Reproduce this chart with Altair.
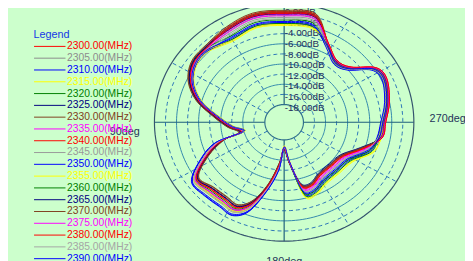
import altair as alt
import pandas as pd

# ---------------- data ----------------
freqs = [2300, 2305, 2310, 2315, 2320, 2325, 2330, 2335, 2340, 2345,
         2350, 2355, 2360, 2365, 2370, 2375, 2380, 2385, 2390]
line_colors = ["#FF0000", "#8C8C8C", "#0000FF", "#FFFF00", "#008000", "#000080", "#804020", "#FF00FF",
               "#FF0000", "#999999", "#0000FF", "#FFFF00", "#008000", "#000080", "#804020", "#FF00FF",
               "#FF0000", "#A5A5A5", "#0000FF"]

# azimuth (deg, counter-clockwise from top) at which each level was read
angles = [0, 15, 30, 45, 55, 65, 75, 85, 95, 104, 108, 116, 125, 135, 145, 153, 160, 167,
          174, 180, 187, 194, 202, 212, 225, 238, 250, 260, 270, 282, 295, 303, 312, 322, 333, 345]

p2300 = [-1.6, -1.4, -2.2, -3.0, -3.2, -4.6, -7.3, -10.9, -13.4, -15.3, -11.6, -7.8, -4.2, -4.8, -4.9, -4.6, -6.5, -10.7, -15.1, -18.4, -15.5, -10.7, -10.3, -11.4, -11.6, -11.1, -8.5, -5.7, -5.3, -4.2, -3.2, -3.9, -7.4, -8.2, -6.1, -1.5]
p2305 = [-2.4, -2.2, -3.0, -3.5, -3.7, -5.1, -7.8, -11.4, -13.9, -15.8, -11.1, -7.3, -3.7, -4.0, -4.1, -3.8, -5.7, -10.2, -14.6, -18.1, -15.2, -10.4, -10.0, -11.1, -11.3, -10.8, -8.2, -6.1, -5.7, -4.6, -3.6, -4.3, -7.8, -8.6, -6.5, -2.3]
p2310 = [-4.1, -3.9, -4.7, -3.8, -4.0, -5.4, -8.1, -11.7, -14.2, -16.1, -10.6, -6.8, -3.2, -3.3, -3.4, -3.1, -5.0, -9.7, -14.1, -18.4, -15.5, -9.0, -8.6, -9.7, -9.9, -9.4, -6.8, -6.3, -5.9, -4.8, -3.8, -4.5, -8.0, -8.8, -6.7, -4.0]
p2315 = [-4.4, -4.2, -5.0, -3.9, -4.1, -5.5, -8.2, -11.8, -14.3, -16.2, -10.9, -7.1, -3.5, -3.7, -3.8, -3.5, -5.4, -10.0, -14.4, -18.7, -15.8, -8.6, -8.2, -9.3, -9.5, -9.0, -6.4, -5.6, -5.2, -4.1, -3.1, -3.8, -7.3, -8.1, -6.0, -4.3]
p2320 = [-4.0, -3.8, -4.6, -3.6, -3.8, -5.2, -7.9, -11.5, -14.0, -15.9, -11.2, -7.4, -3.8, -4.2, -4.3, -4.0, -5.9, -10.3, -14.7, -18.2, -15.3, -8.8, -8.4, -9.5, -9.7, -9.2, -6.6, -6.2, -5.8, -4.7, -3.7, -4.4, -7.9, -8.7, -6.6, -3.9]
p2325 = [-1.9, -1.7, -2.5, -2.9, -3.1, -4.5, -7.2, -10.8, -13.3, -15.2, -11.8, -8.0, -4.4, -5.1, -5.2, -4.9, -6.8, -10.9, -15.3, -18.0, -15.1, -10.8, -10.4, -11.5, -11.7, -11.2, -8.6, -5.8, -5.4, -4.3, -3.3, -4.0, -7.5, -8.3, -6.2, -1.8]
p2330 = [-1.4, -1.2, -2.0, -2.8, -3.0, -4.4, -7.1, -10.7, -13.2, -15.1, -11.9, -8.1, -4.5, -5.3, -5.4, -5.1, -7.0, -11.0, -15.4, -18.4, -15.5, -10.6, -10.2, -11.3, -11.5, -11.0, -8.4, -5.6, -5.2, -4.1, -3.1, -3.8, -7.3, -8.1, -6.0, -1.3]
p2335 = [-2.2, -2.0, -2.8, -3.2, -3.4, -4.8, -7.5, -11.1, -13.6, -15.5, -11.3, -7.5, -3.9, -4.3, -4.4, -4.1, -6.0, -10.4, -14.8, -18.6, -15.7, -10.0, -9.6, -10.7, -10.9, -10.4, -7.8, -5.9, -5.5, -4.4, -3.4, -4.1, -7.6, -8.4, -6.3, -2.1]
p2340 = [-1.8, -1.6, -2.4, -3.1, -3.3, -4.7, -7.4, -11.0, -13.5, -15.4, -11.7, -7.9, -4.3, -5.0, -5.1, -4.8, -6.7, -10.8, -15.2, -18.3, -15.4, -10.5, -10.1, -11.2, -11.4, -10.9, -8.3, -5.5, -5.1, -4.0, -3.0, -3.7, -7.2, -8.0, -5.9, -1.7]
p2345 = [-2.8, -2.6, -3.4, -3.4, -3.6, -5.0, -7.7, -11.3, -13.8, -15.7, -11.0, -7.2, -3.6, -3.9, -4.0, -3.7, -5.6, -10.1, -14.5, -18.4, -15.5, -9.7, -9.3, -10.4, -10.6, -10.1, -7.5, -6.0, -5.6, -4.5, -3.5, -4.2, -7.7, -8.5, -6.4, -2.7]
p2350 = [-3.6, -3.4, -4.2, -3.7, -3.9, -5.3, -8.0, -11.6, -14.1, -16.0, -10.5, -6.7, -3.1, -3.1, -3.2, -2.9, -4.8, -9.6, -14.0, -18.1, -15.2, -9.3, -8.9, -10.0, -10.2, -9.7, -7.1, -6.4, -6.0, -4.9, -3.9, -4.6, -8.1, -8.9, -6.8, -3.5]
p2355 = [-4.2, -4.0, -4.8, -3.5, -3.7, -5.1, -7.8, -11.4, -13.9, -15.8, -11.1, -7.3, -3.7, -4.0, -4.1, -3.8, -5.7, -10.2, -14.6, -18.8, -15.9, -8.4, -8.0, -9.1, -9.3, -8.8, -6.2, -5.7, -5.3, -4.2, -3.2, -3.9, -7.4, -8.2, -6.1, -4.1]
p2360 = [-3.3, -3.1, -3.9, -3.1, -3.3, -4.7, -7.4, -11.0, -13.5, -15.4, -11.4, -7.6, -4.0, -4.5, -4.6, -4.3, -6.2, -10.5, -14.9, -18.3, -15.4, -9.2, -8.8, -9.9, -10.1, -9.6, -7.0, -6.1, -5.7, -4.6, -3.6, -4.3, -7.8, -8.6, -6.5, -3.2]
p2365 = [-2.1, -1.9, -2.7, -3.0, -3.2, -4.6, -7.3, -10.9, -13.4, -15.3, -11.7, -7.9, -4.3, -5.0, -5.1, -4.8, -6.7, -10.8, -15.2, -18.4, -15.5, -11.0, -10.6, -11.7, -11.9, -11.4, -8.8, -5.7, -5.3, -4.2, -3.2, -3.9, -7.4, -8.2, -6.1, -2.0]
p2370 = [-1.7, -1.5, -2.3, -2.7, -2.9, -4.3, -7.0, -10.6, -13.1, -15.0, -12.0, -8.2, -4.6, -5.4, -5.5, -5.2, -7.1, -11.1, -15.5, -18.2, -15.3, -10.8, -10.4, -11.5, -11.7, -11.2, -8.6, -5.8, -5.4, -4.3, -3.3, -4.0, -7.5, -8.3, -6.2, -1.6]
p2375 = [-2.5, -2.3, -3.1, -3.3, -3.5, -4.9, -7.6, -11.2, -13.7, -15.6, -11.2, -7.4, -3.8, -4.2, -4.3, -4.0, -5.9, -10.3, -14.7, -18.5, -15.6, -10.2, -9.8, -10.9, -11.1, -10.6, -8.0, -5.6, -5.2, -4.1, -3.1, -3.8, -7.3, -8.1, -6.0, -2.4]
p2380 = [-2.0, -1.8, -2.6, -3.2, -3.4, -4.8, -7.5, -11.1, -13.6, -15.5, -11.5, -7.7, -4.1, -4.7, -4.8, -4.5, -6.4, -10.6, -15.0, -18.1, -15.2, -10.4, -10.0, -11.1, -11.3, -10.8, -8.2, -5.5, -5.1, -4.0, -3.0, -3.7, -7.2, -8.0, -5.9, -1.9]
p2385 = [-3.1, -2.9, -3.7, -3.6, -3.8, -5.2, -7.9, -11.5, -14.0, -15.9, -10.9, -7.1, -3.5, -3.7, -3.8, -3.5, -5.4, -10.0, -14.4, -18.4, -15.5, -9.8, -9.4, -10.5, -10.7, -10.2, -7.6, -6.2, -5.8, -4.7, -3.7, -4.4, -7.9, -8.7, -6.6, -3.0]
p2390 = [-3.8, -3.6, -4.4, -3.5, -3.7, -5.1, -7.8, -11.4, -13.9, -15.8, -10.4, -6.6, -3.0, -3.0, -3.1, -2.8, -4.7, -9.5, -13.9, -18.6, -15.7, -9.5, -9.1, -10.2, -10.4, -9.9, -7.3, -6.0, -5.6, -4.5, -3.5, -4.2, -7.7, -8.5, -6.4, -3.7]

patterns = [p2300, p2305, p2310, p2315, p2320, p2325, p2330, p2335, p2340, p2345,
            p2350, p2355, p2360, p2365, p2370, p2375, p2380, p2385, p2390]

grid_levels = [-20, -18, -16, -14, -12, -10, -8, -6, -4, -2, 0]
label_levels = [0, -2, -4, -6, -8, -10, -12, -14, -16, -18]
axis_angles = [0, 90, 180, 270]
spoke_angles = [30, 60, 120, 150, 210, 240, 300, 330]

# ---------------- tables ----------------
labels = [f"{f:.2f}(MHz)" for f in freqs]
rows = []
for lab, pat in zip(labels, patterns):
    for k, (a, d) in enumerate(zip(angles, pat)):
        rows.append({"label": lab, "ang": a, "db": d, "ord": k})
series_df = pd.DataFrame(rows)

grid_df = pd.DataFrame({"level": grid_levels,
                        "kind": ["solid" if (lv % 4 == 0) else "dash" for lv in grid_levels]})
ticklab_df = pd.DataFrame({"level": label_levels,
                           "txt": [("%.2fdB" % lv).replace("-0.00", "0.00") for lv in label_levels]})
axis_df = pd.DataFrame({"ang": axis_angles})
spoke_df = pd.DataFrame({"ang": spoke_angles})

# ---------------- geometry (radius in vertical px units) ----------------
R = "(18 + (datum.{f} + 20) * 5.15)"
xs = alt.Scale(domain=[-257.6, 168.7], nice=False, zero=False)
ys = alt.Scale(domain=[-139, 114], nice=False, zero=False)
X = alt.X("x:Q", scale=xs, axis=None)
Y = alt.Y("y:Q", scale=ys, axis=None)

circ_base = (alt.Chart(grid_df)
             .transform_calculate(deg="sequence(0, 362, 2)")
             .transform_flatten(["deg"])
             .transform_calculate(r=R.format(f="level"))
             .transform_calculate(x="-datum.r*sin(datum.deg*PI/180)",
                                  y="datum.r*cos(datum.deg*PI/180)"))

solid_c = circ_base.transform_filter("datum.kind == 'solid' && datum.level > -20 && datum.level < 0").mark_line(
    stroke="#3288AC", strokeWidth=1).encode(x=X, y=Y, detail="level:N", order="deg:Q")
dash_c = circ_base.transform_filter("datum.kind == 'dash'").mark_line(
    stroke="#2A74B8", strokeWidth=1, strokeDash=[4, 3]).encode(x=X, y=Y, detail="level:N", order="deg:Q")
inner_c = circ_base.transform_filter("datum.level == -20").mark_line(
    stroke="#2F6F8C", strokeWidth=1.2).encode(x=X, y=Y, detail="level:N", order="deg:Q")
outer_c = circ_base.transform_filter("datum.level == 0").mark_line(
    stroke="#34546E", strokeWidth=1.2).encode(x=X, y=Y, detail="level:N", order="deg:Q")

seg = ("-{r}*sin(datum.ang*PI/180)", "{r}*cos(datum.ang*PI/180)")
r_in = "(18)"
r_out = "(18 + 20*5.15)"
axes = (alt.Chart(axis_df)
        .transform_calculate(x=seg[0].format(r=r_in), y=seg[1].format(r=r_in),
                             x2=seg[0].format(r=r_out), y2=seg[1].format(r=r_out))
        .mark_rule(stroke="#1F5F7C", strokeWidth=1.2)
        .encode(x=X, y=Y, x2="x2:Q", y2="y2:Q"))
spokes = (alt.Chart(spoke_df)
          .transform_calculate(x=seg[0].format(r=r_in), y=seg[1].format(r=r_in),
                               x2=seg[0].format(r=r_out), y2=seg[1].format(r=r_out))
          .mark_rule(stroke="#2A74B8", strokeWidth=1, strokeDash=[4, 3])
          .encode(x=X, y=Y, x2="x2:Q", y2="y2:Q"))

db_text = (alt.Chart(ticklab_df)
           .transform_calculate(x="0.5", y="112 + 5.4*datum.level")
           .mark_text(align="left", baseline="middle", font="Liberation Sans", fontSize=10,
                      color="#1C2C5C")
           .encode(x=X, y=Y, text="txt:N"))


def dir_label(txt, ang, rr, align, baseline, dy=0):
    df = pd.DataFrame({"txt": [txt], "ang": [ang], "rr": [rr]})
    return (alt.Chart(df)
            .transform_calculate(x="-datum.rr*sin(datum.ang*PI/180)",
                                 y="datum.rr*cos(datum.ang*PI/180)")
            .mark_text(font="Liberation Sans", fontSize=11, color="#24345A",
                       align=align, baseline=baseline, dy=dy)
            .encode(x=X, y=Y, text="txt:N"))


lab90 = dir_label("90deg", 90, 134.7, "right", "top", 4)
lab180 = dir_label("180deg", 180, 136, "center", "top")
lab270 = dir_label("270deg", 270, 135.7, "left", "alphabetic")

curves = (alt.Chart(series_df)
          .transform_calculate(r=R.format(f="db"))
          .transform_calculate(x="-datum.r*sin(datum.ang*PI/180)",
                               y="datum.r*cos(datum.ang*PI/180)")
          .mark_line(interpolate="cardinal-closed", strokeWidth=1)
          .encode(x=X, y=Y, order="ord:Q",
                  color=alt.Color("label:N",
                                  scale=alt.Scale(domain=labels, range=line_colors),
                                  legend=alt.Legend(title="Legend", orient="none", legendX=26, legendY=19,
                                                    direction="vertical", symbolType="stroke",
                                                    symbolSize=1024, symbolStrokeWidth=1,
                                                    clipHeight=11.7, rowPadding=0, labelOffset=1,
                                                    labelFont="Liberation Sans", labelFontSize=10.5,
                                                    labelColor={"expr": "scale('color', datum.value)"},
                                                    labelLimit=0, titleColor="#1438E6",
                                                    titleFont="Liberation Sans", titleFontSize=11,
                                                    titleFontWeight="normal", titlePadding=1,
                                                    padding=0))))

chart = (alt.layer(solid_c, dash_c, spokes, axes, inner_c, outer_c, db_text,
                   lab90, lab180, lab270, curves)
         .properties(width=465, height=253, padding=0,
                     autosize=alt.AutoSizeParams(type="none"))
         .configure(background="#CCFFCC")
         .configure_view(stroke=None))

chart.save("out.html", embed_options={"renderer": "svg", "actions": False})
